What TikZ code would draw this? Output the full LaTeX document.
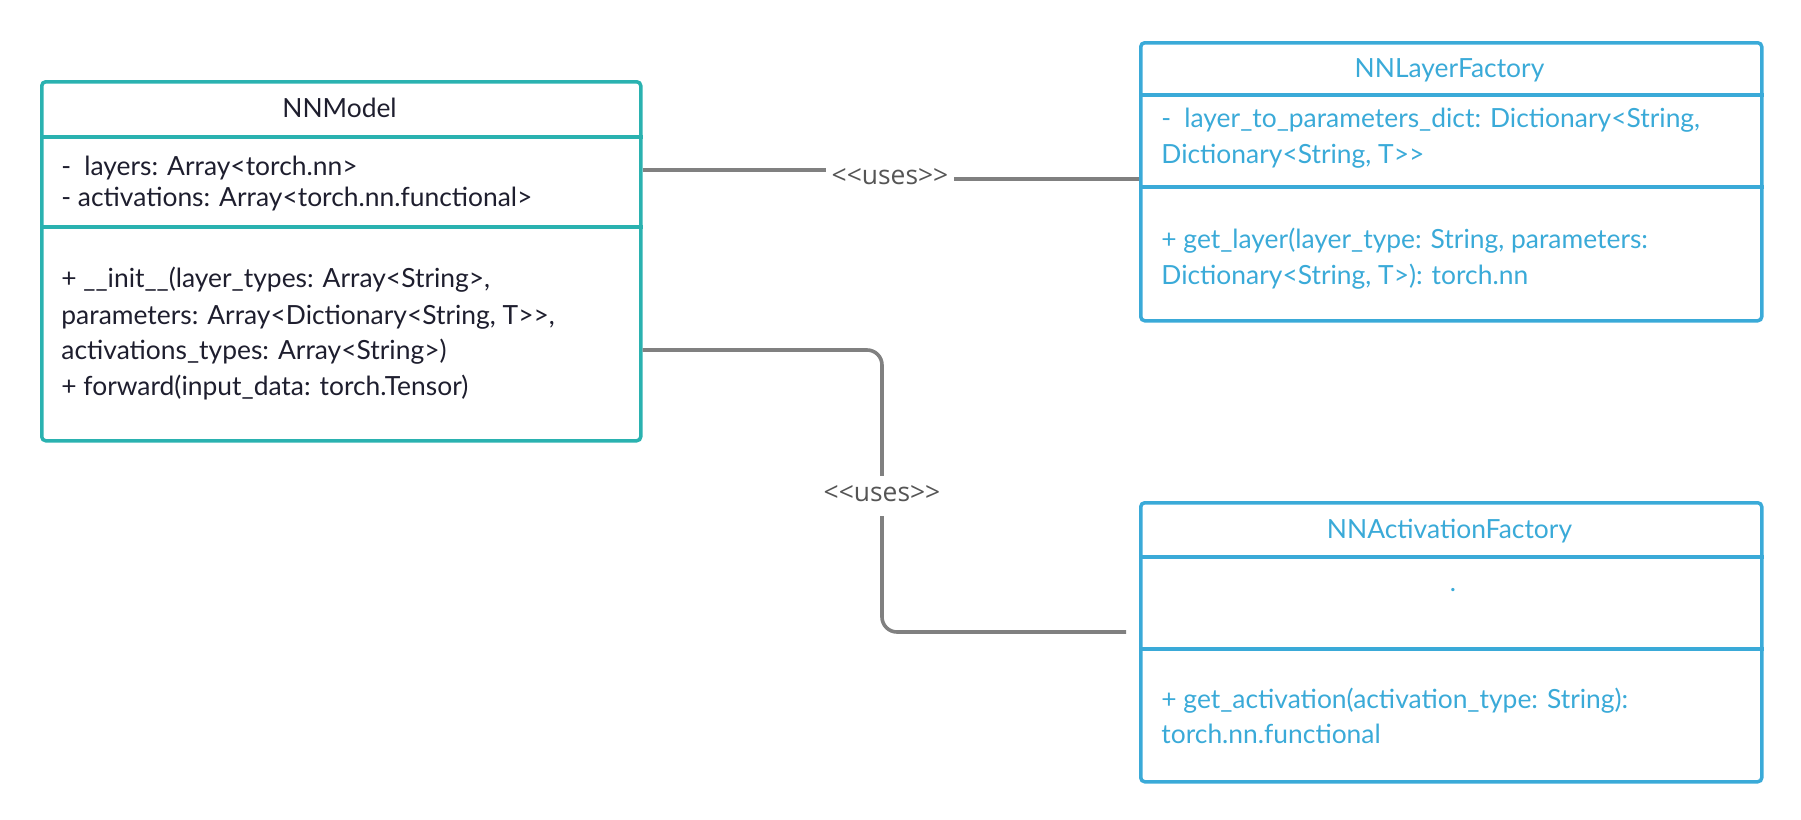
\documentclass[tikz,border=0pt]{standalone}
\usepackage{fontspec}
\setmainfont{Lato}[Ligatures=TeXOff]
\newfontfamily\labelfont{Open Sans}[Ligatures=TeXOff]
\definecolor{tealc}{HTML}{2AB2B0}
\definecolor{bluec}{HTML}{3AAAD8}
\definecolor{darktext}{HTML}{1E1E2E}
\definecolor{conngray}{HTML}{808080}
\definecolor{lblgray}{HTML}{555555}
\begin{document}
\begin{tikzpicture}[x=0.5pt,y=-0.5pt,
 classbox/.style={draw, line width=1.75pt, rounded corners=2pt, anchor=north west, inner sep=0pt},
 divider/.style={line width=1.75pt},
 txt/.style={anchor=west, inner sep=0pt, yshift=-1.75pt, text height=0.75em, text depth=0.25em, font=\fontsize{13.2}{16}\selectfont},
 ttl/.style={anchor=center, inner sep=0pt, yshift=-1.75pt, text height=0.75em, text depth=0.25em, font=\fontsize{13.2}{16}\selectfont},
 conn/.style={draw=conngray, line width=1.8pt},
 lbl/.style={fill=white, text=lblgray, text height=0.75em, text depth=0.25em, font=\labelfont\fontsize{13.2}{16}\selectfont, inner xsep=3pt, inner ysep=2pt}]
\useasboundingbox (0,0) rectangle (1801,820);

% NNModel
\node[classbox, draw=tealc, minimum width=299.5pt, minimum height=179.5pt] (model) at (40,80) {};
\draw[divider, tealc] (model.west |- 0,137) -- (model.east |- 0,137);
\draw[divider, tealc] (model.west |- 0,227) -- (model.east |- 0,227);
\node[ttl, text=darktext] (mtitle) at (339.5,109) {NNModel};
\node[txt, text=darktext] (ma1) at (61,167) {-\enspace layers: Array<torch.nn>};
\node[txt, text=darktext] (ma2) at (61,198) {- activations: Array<torch.nn.functional>};
\node[txt, text=darktext] (mm1) at (61,279) {+ \_\_init\_\_(layer\_types: Array<String>,};
\node[txt, text=darktext] (mm2) at (61,316) {parameters: Array<Dictionary<String, T>>,};
\node[txt, text=darktext] (mm3) at (61,351) {activations\_types: Array<String>)};
\node[txt, text=darktext] (mm4) at (61,387) {+ forward(input\_data: torch.Tensor)};

% NNLayerFactory
\node[classbox, draw=bluec, minimum width=310.5pt, minimum height=139pt] (layer) at (1139,41) {};
\draw[divider, bluec] (layer.west |- 0,95) -- (layer.east |- 0,95);
\draw[divider, bluec] (layer.west |- 0,187) -- (layer.east |- 0,187);
\node[ttl, text=bluec] (ltitle) at (1449.5,69) {NNLayerFactory};
\node[txt, text=bluec] (la1) at (1161,119) {-\enspace layer\_to\_parameters\_dict: Dictionary<String,};
\node[txt, text=bluec] (la2) at (1161,155) {Dictionary<String, T>>};
\node[txt, text=bluec] (lm1) at (1161,240) {+ get\_layer(layer\_type: String, parameters:};
\node[txt, text=bluec] (lm2) at (1161,276) {Dictionary<String, T>): torch.nn};

% NNActivationFactory
\node[classbox, draw=bluec, minimum width=310.5pt, minimum height=139.5pt] (act) at (1139,501) {};
\draw[divider, bluec] (act.west |- 0,557) -- (act.east |- 0,557);
\draw[divider, bluec] (act.west |- 0,649) -- (act.east |- 0,649);
\node[ttl, text=bluec] (atitle) at (1449.5,530) {NNActivationFactory};
\node[ttl, text=bluec] (adot) at (1453,583) {.};
\node[txt, text=bluec] (am1) at (1161,700) {+ get\_activation(activation\_type: String):};
\node[txt, text=bluec] (am2) at (1161,735) {torch.nn.functional};

% connectors
\coordinate (c1) at (890,179);
\draw[conn] (model.east |- 0,170) -- (c1 |- 0,170) -- (c1 |- 0,179) -- (layer.west |- 0,179);
\node[lbl] (u1) at (c1) {<<uses>>};

\coordinate (c2) at (882,496);
\coordinate (e2) at (1126,632);
\draw[conn, rounded corners=7.5pt] (model.east |- 0,350) -- (c2 |- 0,350) -- (c2 |- e2) -- (e2);
\node[lbl, inner ysep=5pt] (u2) at (c2) {<<uses>>};
\end{tikzpicture}
\end{document}
